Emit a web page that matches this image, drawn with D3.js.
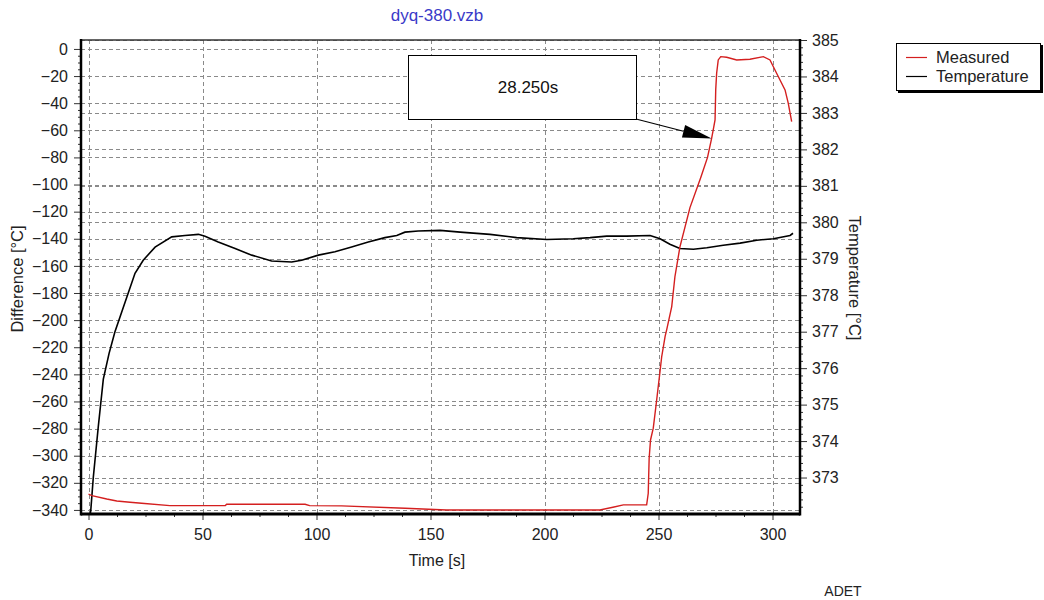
<!DOCTYPE html>
<html>
<head>
<meta charset="utf-8">
<script src="https://cdn.jsdelivr.net/npm/d3@7"></script>
<style>
  body { margin: 0; background: #fff; }
  svg { display: block; font-family: Arial, "Liberation Sans", sans-serif; }
</style>
</head>
<body>
<svg id="chart" width="1044" height="600"></svg>
<script>
// ---- data ----
const chartTitle = "dyq-380.vzb";
const xTicks = [0, 50, 100, 150, 200, 250, 300];
const leftTicks = [0, -20, -40, -60, -80, -100, -120, -140, -160, -180, -200, -220, -240, -260, -280, -300, -320, -340];
const rightTicks = [373, 374, 375, 376, 377, 378, 379, 380, 381, 382, 383, 384, 385];

const measuredTime = [0, 1.5, 8, 12.4, 18.2, 23.3, 35.7, 60, 60.6, 95, 97, 111, 138.8, 157, 224.3, 230, 234.6, 244.8,
  245.5, 245.9, 246.5, 247.7, 249.2, 250.4, 251.4, 252.9, 253.6, 255.8, 257.2, 259.4, 263.8, 268.5, 271.5, 273.3,
  274, 274.8, 275.1, 275.5, 276.2, 277.3, 279.9, 284.3, 290.1, 296, 298.9, 301.8, 305.5, 306.9, 308.4];
const measuredValue = [-328.4, -329.4, -331.9, -333.4, -334.3, -335.1, -336.8, -336.8, -335.8, -335.8, -336.8, -337, -338.8, -340, -340, -338, -336.3, -336.3,
  -327.7, -301.9, -288.4, -279.7, -258.9, -241.7, -227, -212, -207, -190, -168, -146, -117, -95, -80, -66,
  -59.7, -52.4, -30, -17.9, -8.1, -5.7, -6.1, -8.1, -7.6, -5.7, -8.1, -17.9, -30.2, -40, -53.6];

const tempTime = [0.8, 1.0, 2.1, 4.3, 6.5, 9, 11.6, 16.0, 20.4, 24.0, 29.2, 36.5, 42.3, 48.2, 51.1, 56.9, 64.3, 71.6,
  80.3, 89.1, 93.5, 100.8, 108.1, 115.4, 122.7, 130, 135.2, 138.8, 144.6, 154.2, 163, 176.1, 187.8, 201, 212.6,
  220, 227.3, 236, 246.3, 250.7, 255, 259.4, 265.3, 271.2, 278.4, 285.8, 293.1, 300.4, 307.7, 309];
const tempValue = [372.0, 372.1, 373.0, 374.4, 375.7, 376.4, 377.0, 377.8, 378.6, 378.96, 379.32, 379.6, 379.64, 379.67, 379.62, 379.46, 379.28, 379.1,
  378.94, 378.91, 378.96, 379.1, 379.19, 379.32, 379.46, 379.58, 379.64, 379.73, 379.76, 379.78, 379.73, 379.67, 379.58, 379.53, 379.55,
  379.58, 379.62, 379.62, 379.64, 379.55, 379.4, 379.28, 379.26, 379.3, 379.37, 379.43, 379.51, 379.55, 379.64, 379.7];

const seriesNames = ["Measured", "Temperature"];
const annotationText = "28.250s";
const annotationPoint = [273.3, -66];

// ---- layout ----
const svg = d3.select("#chart");
const L = 81, R = 800, T = 40, B = 514;
const x = d3.scaleLinear().domain([-3.29, 312.06]).range([L, R]);
const yL = d3.scaleLinear().domain([-343, 6.6]).range([B, T]);
const yR = d3.scaleLinear().domain([372.0, 385.0]).range([B, T]);
const FONT = "Arial, 'Liberation Sans', sans-serif";
const textColor = "#222";

const gridColor = "#8a8a8a";
const grid = svg.append("g").attr("stroke", gridColor).attr("stroke-width", 1).attr("stroke-dasharray", "4,3").attr("fill", "none");
leftTicks.forEach(v => grid.append("line").attr("x1", L).attr("x2", R).attr("y1", Math.round(yL(v)) + 0.5).attr("y2", Math.round(yL(v)) + 0.5));
rightTicks.forEach(v => grid.append("line").attr("x1", L).attr("x2", R).attr("y1", Math.round(yR(v)) + 0.5).attr("y2", Math.round(yR(v)) + 0.5));
xTicks.forEach(v => grid.append("line").attr("y1", T).attr("y2", B).attr("x1", Math.round(x(v)) + 0.5).attr("x2", Math.round(x(v)) + 0.5));

// top frame
svg.append("line").attr("x1", L).attr("x2", R).attr("y1", T).attr("y2", T).attr("stroke", "#333").attr("stroke-width", 1.5);

// axes
const fontSize = 16;
const axL = svg.append("g").attr("transform", `translate(${L},0)`)
  .call(d3.axisLeft(yL).tickValues(leftTicks).tickSize(7).tickPadding(6).tickFormat(d3.format("d")));
const axLminor = svg.append("g").attr("transform", `translate(${L},0)`)
  .call(d3.axisLeft(yL).tickValues(d3.range(-340, 5, 5).filter(v => v % 20 !== 0)).tickSize(3).tickFormat(""));
const axR = svg.append("g").attr("transform", `translate(${R},0)`)
  .call(d3.axisRight(yR).tickValues(rightTicks).tickSize(7).tickPadding(5).tickFormat(d3.format("d")));
const axRminor = svg.append("g").attr("transform", `translate(${R},0)`)
  .call(d3.axisRight(yR).tickValues(d3.range(372.2, 385, 0.2).filter(v => Math.abs(v - Math.round(v)) > 0.05)).tickSize(3).tickFormat(""));
const axB = svg.append("g").attr("transform", `translate(0,${B})`)
  .call(d3.axisBottom(x).tickValues(xTicks).tickSize(6).tickPadding(9).tickFormat(d3.format("d")));
const axBminor = svg.append("g").attr("transform", `translate(0,${B})`)
  .call(d3.axisBottom(x).tickValues(d3.range(12.5, 312, 12.5).filter(v => v % 50 !== 0)).tickSize(3).tickFormat(""));

[axL, axLminor, axR, axRminor, axB, axBminor].forEach(g => {
  g.select(".domain").remove();
  g.selectAll("line").attr("stroke", "#333");
  g.selectAll("text").attr("font-size", fontSize).attr("fill", textColor).attr("font-family", FONT);
});

// thick axis lines
svg.append("line").attr("x1", L).attr("x2", L).attr("y1", T - 1).attr("y2", B + 1.5).attr("stroke", "#000").attr("stroke-width", 2.5);
svg.append("line").attr("x1", R).attr("x2", R).attr("y1", T - 1).attr("y2", B + 1.5).attr("stroke", "#000").attr("stroke-width", 2.5);
svg.append("line").attr("x1", L).attr("x2", R).attr("y1", B).attr("y2", B).attr("stroke", "#000").attr("stroke-width", 3);

// series
const measured = measuredTime.map((t, i) => [t, measuredValue[i]]);
const temp = tempTime.map((t, i) => [t, tempValue[i]]);
svg.append("path").datum(temp)
  .attr("d", d3.line().x(d => x(d[0])).y(d => yR(d[1])))
  .attr("fill", "none").attr("stroke", "#000").attr("stroke-width", 1.6);
svg.append("path").datum(measured)
  .attr("d", d3.line().x(d => x(d[0])).y(d => yL(d[1])))
  .attr("fill", "none").attr("stroke", "#d41f1f").attr("stroke-width", 1.4);

// annotation
const bx = 408, by = 55, bw = 228, bh = 64;
svg.append("rect").attr("x", bx + 0.5).attr("y", by + 0.5).attr("width", bw).attr("height", bh)
  .attr("fill", "#fff").attr("stroke", "#000").attr("stroke-width", 1);
svg.append("text").attr("x", bx + bw / 2 + 6).attr("y", by + bh / 2 + 6).attr("text-anchor", "middle")
  .attr("font-size", 17).attr("fill", "#111").text(annotationText);
const tipX = x(annotationPoint[0]), tipY = yL(annotationPoint[1]);
const sx = bx + bw, sy = by + bh;
const ang = Math.atan2(tipY - sy, tipX - sx);
const hl = 29, hw = 6.5;
const baseX = tipX - hl * Math.cos(ang), baseY = tipY - hl * Math.sin(ang);
svg.append("line").attr("x1", sx).attr("y1", sy).attr("x2", baseX).attr("y2", baseY).attr("stroke", "#000").attr("stroke-width", 1.2);
svg.append("path").attr("d", `M${tipX},${tipY} L${baseX - hw * Math.sin(ang)},${baseY + hw * Math.cos(ang)} L${baseX + hw * Math.sin(ang)},${baseY - hw * Math.cos(ang)} Z`)
  .attr("fill", "#000");

// titles
svg.append("text").attr("x", 437).attr("y", 21).attr("text-anchor", "middle").attr("font-size", 17)
  .attr("fill", "#3a3ac8").text(chartTitle);
svg.append("text").attr("x", 437).attr("y", 566).attr("text-anchor", "middle").attr("font-size", 16)
  .attr("fill", textColor).text("Time [s]");
svg.append("text").attr("transform", "translate(23,279) rotate(-90)").attr("text-anchor", "middle").attr("font-size", 16.5)
  .attr("fill", textColor).text("Difference [°C]");
svg.append("text").attr("transform", "translate(849,278) rotate(90)").attr("text-anchor", "middle").attr("font-size", 16.5)
  .attr("fill", textColor).text("Temperature [°C]");
svg.append("text").attr("x", 843).attr("y", 596).attr("text-anchor", "middle").attr("font-size", 14)
  .attr("fill", textColor).text("ADET");

// legend
const lg = svg.append("g");
lg.append("rect").attr("x", 898).attr("y", 45).attr("width", 145).attr("height", 48).attr("fill", "#000");
lg.append("rect").attr("x", 896.5).attr("y", 43.5).attr("width", 144).attr("height", 47).attr("fill", "#fff").attr("stroke", "#000").attr("stroke-width", 1);
const legColors = ["#d41f1f", "#000"];
seriesNames.forEach((n, i) => {
  const yy = 57 + i * 19;
  lg.append("line").attr("x1", 906).attr("x2", 927).attr("y1", yy + 0.5).attr("y2", yy + 0.5).attr("stroke", legColors[i]).attr("stroke-width", 1.2);
  lg.append("text").attr("x", 936).attr("y", yy + 6).attr("font-size", 16.5).attr("fill", textColor).text(n);
});
</script>
</body>
</html>
